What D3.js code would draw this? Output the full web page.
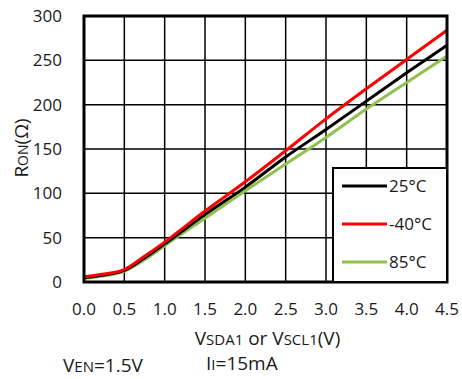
<!DOCTYPE html>
<html>
<head>
<meta charset="utf-8">
<script src="https://cdn.jsdelivr.net/npm/d3@7"></script>
<style>
  body { margin: 0; background: #fff; }
  svg text { font-family: "Open Sans", "DejaVu Sans", sans-serif; fill: #1a1a1a; }
</style>
</head>
<body>
<figure id="chart" style="margin:0"></figure>
<script>
// values
const voltage = [0.0, 0.25, 0.5, 0.75, 1.0, 1.5, 2.0, 2.5, 3.0, 3.5, 4.0, 4.5];
const ron25 = [5, 8, 13, 27, 43, 76, 107, 141, 172, 204, 236, 267];
const ronMinus40 = [6, 9, 14, 29, 45, 80, 113, 148, 184, 218, 251, 284];
const ron85 = [4, 7, 12, 25, 41, 72, 103, 133, 163, 195, 225, 255];
const xTicks = [0.0, 0.5, 1.0, 1.5, 2.0, 2.5, 3.0, 3.5, 4.0, 4.5];
const yTicks = [0, 50, 100, 150, 200, 250, 300];
const seriesNames = ['25°C', '-40°C', '85°C'];
const seriesColors = ['#000000', '#ff0000', '#92c050'];

const W = 462, H = 379;
const margin = { top: 16, right: 15, bottom: 97, left: 84 };
const width = W - margin.left - margin.right;
const height = H - margin.top - margin.bottom;

const svg = d3.select('figure#chart')
  .append('svg')
  .attr('width', W)
  .attr('height', H);

const g = svg.append('g')
  .attr('transform', 'translate(' + margin.left + ',' + margin.top + ')');

const x = d3.scaleLinear().domain([0, 4.5]).range([0, width]);
const y = d3.scaleLinear().domain([0, 300]).range([height, 0]);

// grid
g.append('g')
  .selectAll('line')
  .data(xTicks)
  .enter()
  .append('line')
  .attr('x1', d => x(d)).attr('x2', d => x(d))
  .attr('y1', 0).attr('y2', height)
  .attr('stroke', '#000').attr('stroke-width', 1.5);

g.append('g')
  .selectAll('line')
  .data(yTicks)
  .enter()
  .append('line')
  .attr('x1', 0).attr('x2', width)
  .attr('y1', d => y(d)).attr('y2', d => y(d))
  .attr('stroke', '#000').attr('stroke-width', 1.5);

// tick labels
g.append('g')
  .selectAll('text')
  .data(yTicks)
  .enter()
  .append('text')
  .attr('x', -22)
  .attr('y', d => y(d) + 6)
  .attr('text-anchor', 'end')
  .attr('font-size', 17)
  .text(d => d);

g.append('g')
  .selectAll('text')
  .data(xTicks)
  .enter()
  .append('text')
  .attr('x', d => x(d))
  .attr('y', height + 33)
  .attr('text-anchor', 'middle')
  .attr('font-size', 17)
  .text(d => d.toFixed(1));

// curves
const series = [ron25, ronMinus40, ron85];
const line = d3.line()
  .x((d, i) => x(voltage[i]))
  .y(d => y(d))
  .curve(d3.curveMonotoneX);

[2, 0, 1].forEach(k => {
  g.append('path')
    .datum(series[k])
    .attr('d', line)
    .attr('fill', 'none')
    .attr('stroke', seriesColors[k])
    .attr('stroke-width', 3);
});

// frame
g.append('rect')
  .attr('x', 0).attr('y', 0)
  .attr('width', width).attr('height', height)
  .attr('fill', 'none')
  .attr('stroke', '#000')
  .attr('stroke-width', 3);

// legend
const lg = g.append('g').attr('transform', 'translate(' + (width - 114) + ',' + (height - 114) + ')');
lg.append('rect')
  .attr('x', 0).attr('y', 0)
  .attr('width', 114).attr('height', 114)
  .attr('fill', '#fff')
  .attr('stroke', '#000')
  .attr('stroke-width', 2);

seriesNames.forEach((name, i) => {
  const ly = 18 + i * 38;
  lg.append('line')
    .attr('x1', 9).attr('x2', 54)
    .attr('y1', ly).attr('y2', ly)
    .attr('stroke', seriesColors[i])
    .attr('stroke-width', 3);
  lg.append('text')
    .attr('x', 56)
    .attr('y', ly + 6)
    .attr('font-size', 17)
    .text(name);
});

// axis titles
svg.append('text')
  .attr('transform', 'translate(28,' + 148 + ') rotate(-90)')
  .attr('text-anchor', 'middle')
  .attr('font-size', 19)
  .html('R<tspan font-size="14">ON</tspan>(Ω)');

svg.append('text')
  .attr('x', margin.left + width / 2 + 2)
  .attr('y', 345)
  .attr('text-anchor', 'middle')
  .attr('font-size', 19)
  .html('V<tspan font-size="15">SDA1</tspan> or V<tspan font-size="15">SCL1</tspan>(V)');

svg.append('text')
  .attr('x', 63)
  .attr('y', 372)
  .attr('font-size', 19)
  .html('V<tspan font-size="15">EN</tspan>=1.5V');

svg.append('text')
  .attr('x', 206)
  .attr('y', 370)
  .attr('font-size', 19)
  .html('I<tspan font-size="15">I</tspan>=15mA');
</script>
</body>
</html>
